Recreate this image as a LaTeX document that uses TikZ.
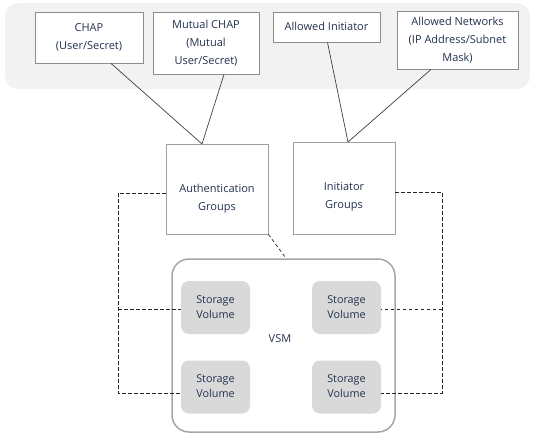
\documentclass[tikz,border=0pt]{standalone}
\usepackage{fontspec}
\setmainfont{Open Sans}
\usetikzlibrary{calc}
\definecolor{txt}{HTML}{22324F}
\definecolor{panel}{HTML}{F2F2F2}
\definecolor{boxline}{HTML}{8C8C8C}
\definecolor{lowline}{HTML}{A0A0A0}
\definecolor{vsmline}{HTML}{A6A6A6}
\definecolor{svfill}{HTML}{D9D9D9}
\definecolor{conn}{HTML}{404040}
\tikzset{
  lbl/.style={font=\fontsize{11}{18}\selectfont, text=txt, align=center, inner sep=0pt},
  topbox/.style={draw=boxline, fill=white, line width=0.8pt, inner sep=0pt, align=center,
     font=\fontsize{11}{18}\selectfont, text=txt},
  grpbox/.style={draw=lowline, fill=white, line width=0.8pt, inner sep=0pt},
  vsmbox/.style={draw=vsmline, line width=1.5pt, rounded corners=17pt, inner sep=0pt,
     minimum width=223pt, minimum height=173pt},
  svbox/.style={fill=svfill, rounded corners=8pt, inner sep=0pt, align=center,
     minimum width=69pt, minimum height=53pt, font=\fontsize{10.8}{15}\selectfont, text=txt},
  solidconn/.style={draw=conn, line width=0.7pt},
  dashconn/.style={draw=black!85, line width=0.7pt, dash pattern=on 3.5pt off 2.5pt},
}
\begin{document}
\begin{tikzpicture}[x=1pt,y=-1pt]
\useasboundingbox (0,0) rectangle (536,442);
\fill[panel, rounded corners=13pt] (5,3) rectangle (530,89);

% top boxes
\node[topbox, minimum width=108pt, minimum height=51pt] (chap) at (89,37.5) {CHAP\\(User/Secret)};
\node[topbox, minimum width=106pt, minimum height=62pt] (mchap) at (206,43) {Mutual CHAP\\(Mutual\\User/Secret)};
\node[topbox, minimum width=107pt, minimum height=30pt] (ainit) at (326.5,27) {\raisebox{2pt}{Allowed Initiator}};
\node[topbox, minimum width=121pt, minimum height=58pt] (anet) at (457.5,40) {Allowed Networks\\(IP Address/Subnet\\Mask)};

% group boxes
\node[grpbox, minimum width=102pt, minimum height=90pt] (auth) at (217,189) {};
\node[lbl] (authtxt) at (217,199) {Authentication\\Groups};
\node[grpbox, minimum width=102pt, minimum height=92pt] (igrp) at (344,188) {};
\node[lbl] (igrptxt) at (344,197) {Initiator\\Groups};

% VSM
\node[vsmbox] (vsm) at (283.5,345.5) {};
\node[lbl] (vsmtxt) at (280,339) {VSM};
\node[svbox] (sv1) at (215.5,307.5) {\raisebox{3pt}{\begin{tabular}{@{}c@{}}Storage\\Volume\end{tabular}}};
\node[svbox] (sv2) at (346.5,307.5) {\raisebox{3pt}{\begin{tabular}{@{}c@{}}Storage\\Volume\end{tabular}}};
\node[svbox] (sv3) at (215.5,387) {\raisebox{3pt}{\begin{tabular}{@{}c@{}}Storage\\Volume\end{tabular}}};
\node[svbox] (sv4) at (346.5,387) {\raisebox{3pt}{\begin{tabular}{@{}c@{}}Storage\\Volume\end{tabular}}};

% solid connectors
\coordinate (authtop) at (202,144);
\coordinate (igrptop) at (348,142);
\draw[solidconn] ($(chap.south)+(22,0)$) -- (authtop);
\draw[solidconn] ($(mchap.south)+(18,0)$) -- (authtop);
\draw[solidconn] ($(ainit.south)+(1,0)$) -- (igrptop);
\draw[solidconn] ($(anet.south)+(-26.5,0)$) -- (igrptop);

% dashed connectors
\coordinate (lcorner) at (118,193);
\coordinate (rcorner) at (442,192);
\coordinate (upy) at (0,309);
\coordinate (loy) at (0,393);
\coordinate (vsmhit) at (286,0);
\draw[dashconn] (auth.west |- lcorner) -- (lcorner) -- (lcorner |- loy) -- (sv3.west |- loy);
\draw[dashconn] (lcorner |- upy) -- (sv1.west |- upy);
\draw[dashconn] (igrp.east |- rcorner) -- (rcorner) -- (rcorner |- loy) -- (sv4.east |- loy);
\draw[dashconn] (rcorner |- upy) -- (sv2.east |- upy);
\draw[dashconn] (auth.south east) -- (vsm.north -| vsmhit);
\end{tikzpicture}
\end{document}
